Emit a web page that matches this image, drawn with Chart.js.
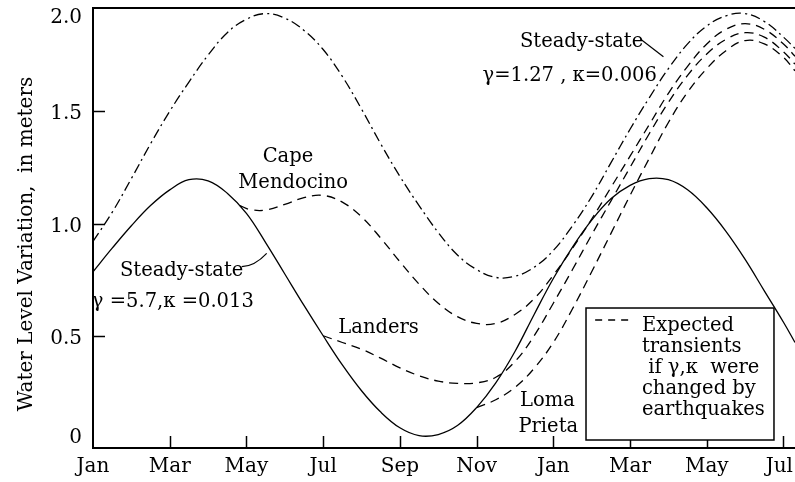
<!DOCTYPE html>
<html><head><meta charset="utf-8">
<script src="https://cdn.jsdelivr.net/npm/chart.js@4/dist/chart.umd.min.js"></script>
<style>html,body{margin:0;padding:0;background:#fff;}canvas{display:block;}</style>
</head><body>
<canvas id="c" width="795" height="482"></canvas>
<script>
// ---- data (months since January of year 1; values in meters) ----
const months = [0,0.5,1,1.5,2,2.5,3,3.5,4,4.5,5,5.5,6,6.5,7,7.5,8,8.5,9,9.5,10,10.5,11,11.5,12,12.5,13,13.5,14,14.5,15,15.5,16,16.5,17,17.5,18,18.3];
// Steady-state, gamma=5.7, kappa=0.013 (solid)
const steadyFast = [0.785,0.89,0.99,1.08,1.15,1.195,1.19,1.135,1.045,0.915,0.775,0.635,0.50,0.37,0.255,0.16,0.09,0.055,0.06,0.10,0.18,0.29,0.43,0.595,0.755,0.895,1.015,1.11,1.17,1.20,1.195,1.15,1.07,0.965,0.84,0.70,0.56,0.47];
// Steady-state, gamma=1.27, kappa=0.006 (dash-dot)
const steadySlow = [0.92,1.05,1.20,1.355,1.50,1.63,1.75,1.85,1.91,1.935,1.915,1.86,1.775,1.655,1.51,1.355,1.21,1.08,0.96,0.86,0.795,0.76,0.765,0.805,0.88,0.99,1.12,1.27,1.42,1.56,1.69,1.80,1.88,1.925,1.935,1.90,1.83,1.78];
// Expected transients
const capeMonths = [3.83,4.1,4.5,5,5.5,6,6.5,7,7.5,8,8.5,9,9.5,10,10.5,11,11.5,12,12.5,13,13.5,14,14.5,15,15.5,16,16.5,17,17.5,18,18.3];
const capeVals = [1.08,1.062,1.06,1.085,1.115,1.125,1.095,1.03,0.935,0.83,0.73,0.645,0.585,0.555,0.555,0.595,0.665,0.77,0.89,1.02,1.16,1.30,1.44,1.58,1.70,1.80,1.865,1.89,1.865,1.80,1.745];
const landersMonths = [6,6.5,7,7.5,8,8.5,9,9.5,10,10.5,11,11.5,12,12.5,13,13.5,14,14.5,15,15.5,16,16.5,17,17.5,18,18.3];
const landersVals = [0.50,0.47,0.44,0.40,0.357,0.322,0.298,0.288,0.29,0.315,0.385,0.50,0.645,0.795,0.95,1.10,1.25,1.40,1.54,1.66,1.755,1.82,1.85,1.83,1.765,1.71];
const lomaMonths = [10,10.5,11,11.5,12,12.5,13,13.5,14,14.5,15,15.5,16,16.5,17,17.5,18,18.3];
const lomaVals = [0.18,0.215,0.27,0.355,0.47,0.62,0.785,0.955,1.125,1.29,1.45,1.585,1.69,1.77,1.815,1.80,1.74,1.68];
// ticks
const xTickValues = [0,2,4,6,8,10,12,14,16,18];
const xTickLabels = ['Jan','Mar','May','Jul','Sep','Nov','Jan','Mar','May','Jul'];
const yTickValues = [0,0.5,1.0,1.5,1.96];
const yTickLabels = ['0','0.5','1.0','1.5','2.0'];
const yAxisTitle = 'Water Level Variation,  in meters';
const legendLines = ['Expected','transients',' if \u03b3,\u03ba  were','changed by','earthquakes'];

const zip = (xs, ys) => xs.map((m, i) => ({x: m, y: ys[i]}));
const FONT = '"DejaVu Serif", "Liberation Serif", serif';
const DASH = [9,6];

const ds = (label, xs, ys, dash) => ({
  label, data: zip(xs, ys), borderColor: '#000', borderWidth: 1.3,
  borderDash: dash, pointRadius: 0, fill: false, tension: 0.4
});

const decor = {
  id: 'decor',
  afterDraw(chart) {
    const {ctx, chartArea: a, scales: {x, y}} = chart;
    const X = m => x.getPixelForValue(m), Y = v => y.getPixelForValue(v);
    ctx.save();
    ctx.strokeStyle = '#000'; ctx.fillStyle = '#000';
    // top frame line
    ctx.lineWidth = 2;
    ctx.beginPath(); ctx.moveTo(a.left, a.top); ctx.lineTo(a.right, a.top); ctx.stroke();
    // inward ticks
    ctx.lineWidth = 1.5;
    xTickValues.forEach(v => { if (v <= 0) return; const px = Math.round(X(v)) + 0.5;
      ctx.beginPath(); ctx.moveTo(px, a.bottom); ctx.lineTo(px, a.bottom - 12); ctx.stroke(); });
    yTickValues.forEach(v => { if (v <= 0 || v >= y.max) return; const py = Math.round(Y(v)) + 0.5;
      ctx.beginPath(); ctx.moveTo(a.left, py); ctx.lineTo(a.left + 12, py); ctx.stroke(); });
    // tick labels
    ctx.font = '20px ' + FONT;
    ctx.textBaseline = 'alphabetic'; ctx.textAlign = 'center';
    xTickValues.forEach((v, i) => {
      const w = ctx.measureText(xTickLabels[i]).width;
      let px = Math.min(X(v), chart.width - w / 2 - 2);
      ctx.fillText(xTickLabels[i], px, a.bottom + 24);
    });
    ctx.textAlign = 'right'; ctx.textBaseline = 'middle';
    yTickValues.forEach((v, i) => {
      let py = Math.max(a.top + 10, Math.min(a.bottom - 10, Y(v) + 3));
      ctx.fillText(yTickLabels[i], a.left - 11, py);
    });
    // axis title
    ctx.save();
    ctx.translate(32, (a.top + a.bottom) / 2 + 16);
    ctx.rotate(-Math.PI / 2);
    ctx.textAlign = 'center'; ctx.textBaseline = 'alphabetic';
    ctx.fillText(yAxisTitle, 0, 0);
    ctx.restore();

    // annotations (anchored in data space)
    const txt = (s, m, v, align) => { ctx.textAlign = align; ctx.textBaseline = 'alphabetic'; ctx.fillText(s, X(m), Y(v)); };
    ctx.font = '19.5px ' + FONT;
    txt('Steady-state', 11.13, 1.7885, 'left');
    txt('\u03b3=1.27 , \u03ba=0.006', 14.70, 1.6326, 'right');
    txt('Steady-state', 0.704, 0.7684, 'left');
    txt('\u03b3 =5.7,\u03ba =0.013', -0.03, 0.628, 'left');
    txt('Cape', 5.083, 1.2762, 'center');
    txt('Mendocino', 5.22, 1.1568, 'center');
    txt('Landers', 6.395, 0.5123, 'left');
    txt('Loma', 11.13, 0.1849, 'left');
    txt('Prieta', 11.09, 0.0735, 'left');
    // leader lines
    ctx.lineWidth = 1.2;
    ctx.beginPath(); ctx.moveTo(X(14.278), Y(1.8206)); ctx.lineTo(X(14.87), Y(1.7431)); ctx.stroke();
    ctx.beginPath(); ctx.moveTo(X(3.876), Y(0.8076)); ctx.quadraticCurveTo(X(4.22), Y(0.8107), X(4.528), Y(0.8673)); ctx.stroke();

    // legend box
    const bx0 = X(12.852), bx1 = X(17.752), by0 = Y(0.6236), by1 = Y(0.0356);
    ctx.fillStyle = '#fff'; ctx.fillRect(bx0, by0, bx1 - bx0, by1 - by0);
    ctx.fillStyle = '#000';
    ctx.lineWidth = 1.5; ctx.strokeRect(bx0, by0, bx1 - bx0, by1 - by0);
    ctx.setLineDash([7,6]); ctx.lineWidth = 1.4;
    ctx.beginPath(); ctx.moveTo(X(13.09), Y(0.5702)); ctx.lineTo(X(14.08), Y(0.5702)); ctx.stroke();
    ctx.setLineDash([]);
    const lvs = [0.5212, 0.4276, 0.3341, 0.2405, 0.1470];
    legendLines.forEach((s, i) => txt(s, 14.31, lvs[i], 'left'));
    ctx.restore();
  }
};

new Chart(document.getElementById('c'), {
  type: 'line',
  data: {
    datasets: [
      ds('Steady-state \u03b3=5.7, \u03ba=0.013', months, steadyFast, []),
      ds('Steady-state \u03b3=1.27, \u03ba=0.006', months, steadySlow, [10,4,2,4]),
      ds('Cape Mendocino', capeMonths, capeVals, DASH),
      ds('Landers', landersMonths, landersVals, DASH),
      ds('Loma Prieta', lomaMonths, lomaVals, DASH)
    ]
  },
  options: {
    responsive: false, animation: false, devicePixelRatio: 1,
    layout: {padding: {top: 8, left: 0, right: 0, bottom: 0}},
    plugins: {legend: {display: false}, tooltip: {enabled: false}},
    scales: {
      x: {type: 'linear', min: 0, max: 18.3, ticks: {display: false}, grid: {display: false},
          border: {display: true, color: '#000', width: 2}, afterFit(s) { s.height = 34; }},
      y: {type: 'linear', min: 0, max: 1.96, ticks: {display: false}, grid: {display: false},
          border: {display: true, color: '#000', width: 2}, afterFit(s) { s.width = 93; }}
    }
  },
  plugins: [decor]
});
</script>
</body></html>
